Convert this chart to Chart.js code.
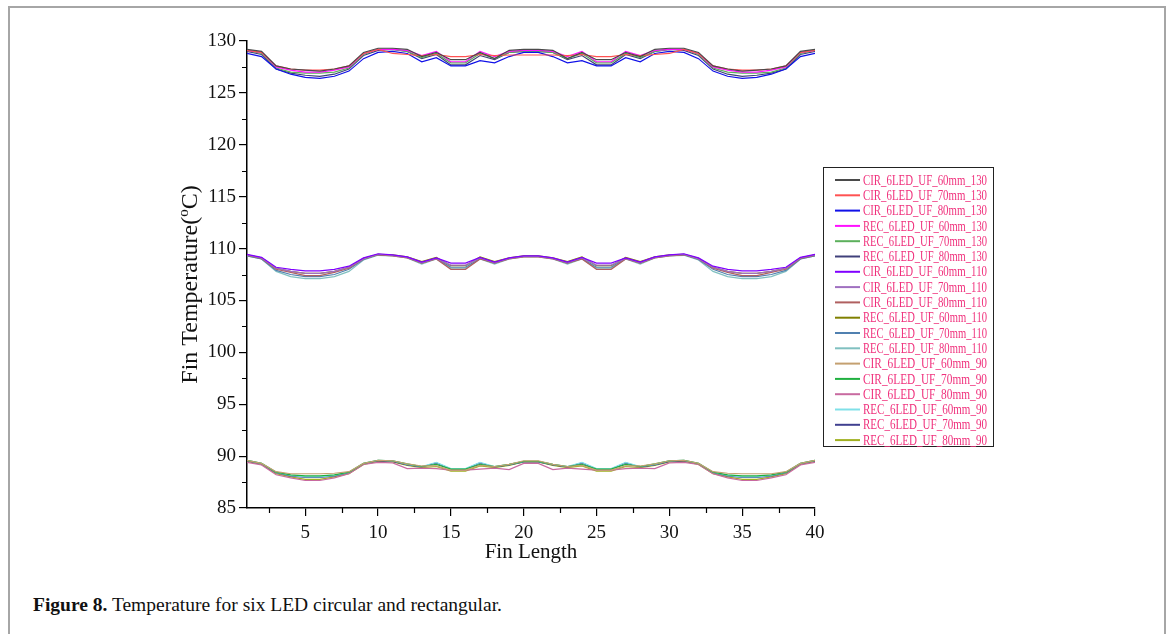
<!DOCTYPE html>
<html>
<head>
<meta charset="utf-8">
<script src="https://cdn.jsdelivr.net/npm/chart.js@4.4.0/dist/chart.umd.min.js"></script>
<style>
  html, body { margin: 0; padding: 0; background: #fff; overflow: hidden; }
  body { width: 1171px; height: 634px; position: relative; }
  .frame { position: absolute; left: 8px; top: 6px; width: 1154px; height: 700px; border: 2px solid #a6a6a6; border-bottom: none; }
  #chart { position: absolute; left: 0; top: 0; }
  .caption { position: absolute; left: 33px; top: 594px; font-family: "Liberation Serif", "DejaVu Serif", serif; font-size: 19.5px; color: #111; }
  .caption b { font-weight: bold; }
</style>
</head>
<body>
<div class="frame"></div>
<canvas id="chart" width="1171" height="570"></canvas>
<div class="caption"><b>Figure 8.</b> Temperature for six LED circular and rectangular.</div>
<script>
const finLength = [1, 2, 3, 4, 5, 6, 7, 8, 9, 10, 11, 12, 13, 14, 15, 16, 17, 18, 19, 20,
  21, 22, 23, 24, 25, 26, 27, 28, 29, 30, 31, 32, 33, 34, 35, 36, 37, 38, 39, 40];

const xTickValues = [2.5, 5, 7.5, 10, 12.5, 15, 17.5, 20, 22.5, 25, 27.5, 30, 32.5, 35, 37.5, 40];
const yTickValues = [85, 87.5, 90, 92.5, 95, 97.5, 100, 102.5, 105, 107.5, 110, 112.5, 115, 117.5, 120, 122.5, 125, 127.5, 130];

// 130 group
const cir60_130 = [129.2, 129.0, 127.6, 127.3, 127.2, 127.1, 127.3, 127.6, 128.9, 129.3, 129.3, 129.2, 128.5, 128.9, 128.2, 128.2, 128.9, 128.3, 129.1, 129.2,
  129.2, 129.1, 128.3, 128.9, 128.2, 128.2, 128.9, 128.5, 129.2, 129.3, 129.3, 128.9, 127.6, 127.3, 127.1, 127.2, 127.3, 127.6, 129.0, 129.2];
const cir70_130 = [129.1, 128.9, 127.6, 127.3, 127.2, 127.2, 127.3, 127.6, 128.8, 129.2, 128.8, 128.7, 128.6, 128.7, 128.5, 128.5, 128.7, 128.6, 128.65, 128.65,
  128.65, 128.65, 128.6, 128.7, 128.5, 128.5, 128.7, 128.6, 128.7, 128.8, 129.2, 128.8, 127.6, 127.3, 127.2, 127.2, 127.3, 127.6, 128.9, 129.1];
const cir80_130 = [128.8, 128.5, 127.3, 126.8, 126.5, 126.4, 126.6, 127.1, 128.3, 128.9, 129.0, 128.8, 128.0, 128.4, 127.6, 127.6, 128.1, 127.9, 128.5, 128.9,
  128.9, 128.5, 127.9, 128.1, 127.6, 127.6, 128.4, 128.0, 128.8, 129.0, 128.9, 128.3, 127.1, 126.6, 126.4, 126.5, 126.8, 127.3, 128.5, 128.8];
const rec60_130 = [129.1, 128.9, 127.5, 127.2, 127.0, 127.0, 127.2, 127.5, 128.8, 129.2, 129.2, 129.1, 128.6, 129.0, 128.0, 128.0, 129.0, 128.5, 129.0, 129.1,
  129.1, 129.0, 128.5, 129.0, 128.0, 128.0, 129.0, 128.6, 129.1, 129.2, 129.2, 128.8, 127.5, 127.2, 127.0, 127.0, 127.2, 127.5, 128.9, 129.1];
const rec70_130 = [129.1, 128.8, 127.4, 127.0, 126.9, 126.9, 127.0, 127.4, 128.7, 129.2, 129.2, 129.0, 128.4, 128.8, 127.9, 127.9, 128.8, 128.3, 128.9, 129.0,
  129.0, 128.9, 128.3, 128.8, 127.9, 127.9, 128.8, 128.4, 129.0, 129.2, 129.2, 128.7, 127.4, 127.0, 126.9, 126.9, 127.0, 127.4, 128.8, 129.1];
const rec80_130 = [129.0, 128.7, 127.3, 126.9, 126.7, 126.6, 126.8, 127.3, 128.6, 129.1, 129.2, 129.0, 128.3, 128.7, 127.7, 127.7, 128.6, 128.2, 128.9, 129.0,
  129.0, 128.9, 128.2, 128.6, 127.7, 127.7, 128.7, 128.3, 129.0, 129.2, 129.1, 128.6, 127.3, 126.8, 126.6, 126.7, 126.9, 127.3, 128.7, 129.0];

// 110 group
const cir60_110 = [109.45, 109.15, 108.2, 108.0, 107.85, 107.85, 108.0, 108.3, 109.1, 109.5, 109.4, 109.2, 108.7, 109.1, 108.6, 108.6, 109.15, 108.7, 109.1, 109.3,
  109.3, 109.1, 108.7, 109.15, 108.6, 108.6, 109.1, 108.7, 109.2, 109.4, 109.5, 109.1, 108.3, 108.0, 107.85, 107.85, 108.0, 108.2, 109.15, 109.45];
const cir70_110 = [109.4, 109.1, 108.1, 107.8, 107.6, 107.6, 107.8, 108.2, 109.0, 109.45, 109.35, 109.15, 108.65, 109.05, 108.4, 108.4, 109.1, 108.65, 109.05, 109.25,
  109.25, 109.05, 108.65, 109.1, 108.4, 108.4, 109.05, 108.65, 109.15, 109.35, 109.45, 109.0, 108.2, 107.8, 107.6, 107.6, 107.8, 108.1, 109.1, 109.4];
const cir80_110 = [109.35, 109.05, 108.0, 107.7, 107.4, 107.4, 107.7, 108.1, 109.0, 109.4, 109.3, 109.1, 108.6, 109.0, 108.0, 108.0, 109.0, 108.6, 109.0, 109.2,
  109.2, 109.0, 108.6, 109.0, 108.0, 108.0, 109.0, 108.6, 109.1, 109.3, 109.4, 109.0, 108.1, 107.7, 107.4, 107.4, 107.7, 108.0, 109.05, 109.35];
const rec60_110 = [109.4, 109.1, 108.1, 107.8, 107.6, 107.6, 107.8, 108.2, 109.05, 109.45, 109.4, 109.2, 108.75, 109.15, 108.35, 108.35, 109.2, 108.75, 109.1, 109.3,
  109.3, 109.1, 108.75, 109.2, 108.35, 108.35, 109.15, 108.75, 109.2, 109.4, 109.45, 109.05, 108.2, 107.8, 107.6, 107.6, 107.8, 108.1, 109.1, 109.4];
const rec70_110 = [109.3, 109.0, 107.9, 107.5, 107.3, 107.3, 107.5, 108.0, 108.95, 109.4, 109.35, 109.15, 108.6, 109.05, 108.2, 108.2, 109.05, 108.6, 109.05, 109.25,
  109.25, 109.05, 108.6, 109.05, 108.2, 108.2, 109.05, 108.6, 109.15, 109.35, 109.4, 108.95, 108.0, 107.5, 107.3, 107.3, 107.5, 107.9, 109.0, 109.3];
const rec80_110 = [109.3, 109.0, 107.8, 107.3, 107.1, 107.1, 107.3, 107.8, 108.9, 109.35, 109.3, 109.1, 108.5, 109.0, 108.1, 108.1, 109.0, 108.5, 109.0, 109.2,
  109.2, 109.0, 108.5, 109.0, 108.1, 108.1, 109.0, 108.5, 109.1, 109.3, 109.35, 108.9, 107.8, 107.3, 107.1, 107.1, 107.3, 107.8, 109.0, 109.3];

// 90 group
const cir60_90 = [89.6, 89.3, 88.5, 88.3, 88.3, 88.3, 88.35, 88.5, 89.3, 89.6, 89.55, 89.25, 89.05, 89.05, 88.65, 88.65, 89.1, 89.0, 89.2, 89.55,
  89.55, 89.2, 89.0, 89.1, 88.65, 88.65, 89.05, 89.05, 89.25, 89.55, 89.6, 89.3, 88.5, 88.35, 88.3, 88.3, 88.3, 88.5, 89.3, 89.6];
const cir70_90 = [89.6, 89.3, 88.45, 88.2, 88.1, 88.1, 88.2, 88.45, 89.3, 89.6, 89.55, 89.25, 89.0, 89.2, 88.75, 88.75, 89.2, 89.0, 89.2, 89.5,
  89.5, 89.2, 89.0, 89.2, 88.75, 88.75, 89.2, 89.0, 89.25, 89.55, 89.6, 89.3, 88.45, 88.2, 88.1, 88.1, 88.2, 88.45, 89.3, 89.6];
const cir80_90 = [89.4, 89.15, 88.2, 87.9, 87.65, 87.65, 87.9, 88.3, 89.2, 89.4, 89.35, 88.8, 88.85, 88.8, 88.65, 88.65, 88.75, 88.85, 88.7, 89.3,
  89.3, 88.7, 88.85, 88.75, 88.65, 88.65, 88.8, 88.85, 88.8, 89.35, 89.4, 89.2, 88.3, 87.9, 87.65, 87.65, 87.9, 88.2, 89.15, 89.4];
const rec60_90 = [89.6, 89.3, 88.45, 88.15, 88.0, 88.0, 88.15, 88.45, 89.3, 89.6, 89.55, 89.2, 89.0, 89.4, 88.8, 88.8, 89.4, 89.0, 89.2, 89.5,
  89.5, 89.2, 89.0, 89.4, 88.8, 88.8, 89.4, 89.0, 89.2, 89.55, 89.6, 89.3, 88.45, 88.15, 88.0, 88.0, 88.15, 88.45, 89.3, 89.6];
const rec70_90 = [89.55, 89.25, 88.4, 88.1, 87.95, 87.95, 88.1, 88.4, 89.25, 89.55, 89.5, 89.15, 88.95, 89.35, 88.75, 88.75, 89.35, 88.95, 89.15, 89.45,
  89.45, 89.15, 88.95, 89.35, 88.75, 88.75, 89.35, 88.95, 89.15, 89.5, 89.55, 89.25, 88.4, 88.1, 87.95, 87.95, 88.1, 88.4, 89.25, 89.55];
const rec80_90 = [89.5, 89.2, 88.3, 88.0, 87.75, 87.75, 88.0, 88.3, 89.2, 89.5, 89.45, 89.1, 88.9, 89.0, 88.55, 88.55, 89.05, 88.9, 89.1, 89.45,
  89.45, 89.1, 88.9, 89.05, 88.55, 88.55, 89.0, 88.9, 89.1, 89.45, 89.5, 89.2, 88.3, 88.0, 87.75, 87.75, 88.0, 88.3, 89.2, 89.5];

const seriesNames = [
  'CIR_6LED_UF_60mm_130', 'CIR_6LED_UF_70mm_130', 'CIR_6LED_UF_80mm_130',
  'REC_6LED_UF_60mm_130', 'REC_6LED_UF_70mm_130', 'REC_6LED_UF_80mm_130',
  'CIR_6LED_UF_60mm_110', 'CIR_6LED_UF_70mm_110', 'CIR_6LED_UF_80mm_110',
  'REC_6LED_UF_60mm_110', 'REC_6LED_UF_70mm_110', 'REC_6LED_UF_80mm_110',
  'CIR_6LED_UF_60mm_90', 'CIR_6LED_UF_70mm_90', 'CIR_6LED_UF_80mm_90',
  'REC_6LED_UF_60mm_90', 'REC_6LED_UF_70mm_90', 'REC_6LED_UF_80mm_90'
];
const seriesValues = [
  cir60_130, cir70_130, cir80_130, rec60_130, rec70_130, rec80_130,
  cir60_110, cir70_110, cir80_110, rec60_110, rec70_110, rec80_110,
  cir60_90, cir70_90, cir80_90, rec60_90, rec70_90, rec80_90
];
const seriesColors = [
  '#4a4a4a', '#ff5252', '#1010e8', '#ff10ff', '#5cb05c', '#40407a',
  '#8000ff', '#a070c0', '#b06060', '#808000', '#5080b0', '#80c0c0',
  '#c4a070', '#20b040', '#c86aa0', '#80e0e8', '#404090', '#a0b020'
];

const serif = '"Liberation Serif", "Times New Roman", serif';
const isMajor = v => Math.abs(v % 5) < 1e-9;

// minor ticks, y title with superscript, boxed legend
const extras = {
  id: 'extras',
  afterDraw(chart) {
    const c = chart.ctx;
    const xs = chart.scales.x, ys = chart.scales.y;
    c.save();
    c.strokeStyle = '#000';
    c.lineWidth = 1.2;
    c.beginPath();
    xTickValues.filter(v => !isMajor(v)).forEach(v => {
      const px = Math.round(xs.getPixelForValue(v)) + 0.5;
      c.moveTo(px, ys.bottom); c.lineTo(px, ys.bottom + 5);
    });
    yTickValues.filter(v => !isMajor(v)).forEach(v => {
      const py = Math.round(ys.getPixelForValue(v)) + 0.5;
      c.moveTo(xs.left, py); c.lineTo(xs.left - 5, py);
    });
    c.stroke();

    // y axis title
    const big = '24px ' + serif, small = '15px ' + serif;
    c.font = big;
    const a = 'Fin Temperature(', b = 'C)';
    const wa = c.measureText(a).width, wb = c.measureText(b).width;
    c.font = small;
    const wo = c.measureText('o').width;
    const total = wa + wo + wb;
    c.translate(197, (ys.top + ys.bottom) / 2 + 10);
    c.rotate(-Math.PI / 2);
    c.fillStyle = '#111';
    c.textBaseline = 'alphabetic';
    c.font = big;
    c.fillText(a, -total / 2, 0);
    c.font = small;
    c.fillText('o', -total / 2 + wa, -9);
    c.font = big;
    c.fillText(b, -total / 2 + wa + wo, 0);
    c.restore();

    // legend
    c.save();
    c.strokeStyle = '#222';
    c.lineWidth = 1;
    c.strokeRect(823.5, 167.5, 170, 279);
    c.font = '14px ' + serif;
    c.textBaseline = 'middle';
    chart.data.datasets.forEach((ds, i) => {
      const y = 180 + i * 15.3;
      c.strokeStyle = ds.borderColor;
      c.lineWidth = 2;
      c.beginPath(); c.moveTo(835, y); c.lineTo(860, y); c.stroke();
      c.fillStyle = '#f0307c';
      c.fillText(ds.label, 863, y + 1, 124);
    });
    c.restore();
  }
};

new Chart(document.getElementById('chart'), {
  type: 'line',
  data: {
    datasets: seriesValues.map((vals, i) => ({
      label: seriesNames[i],
      data: vals.map((v, j) => ({ x: finLength[j], y: v })),
      borderColor: seriesColors[i],
      borderWidth: 1.2,
      pointRadius: 0,
      fill: false,
      tension: 0
    }))
  },
  options: {
    responsive: false,
    animation: false,
    devicePixelRatio: 1,
    layout: { padding: { left: 0, right: 356, top: 41, bottom: 0 } },
    plugins: { legend: { display: false }, tooltip: { enabled: false } },
    scales: {
      x: {
        type: 'linear',
        min: 1,
        max: 40,
        afterBuildTicks: axis => { axis.ticks = xTickValues.map(v => ({ value: v })); },
        afterFit: axis => { axis.height = 62; },
        border: { display: true, color: '#000', width: 1.5 },
        grid: {
          drawOnChartArea: false,
          tickLength: 8,
          lineWidth: 1.2,
          color: ctx => (ctx.tick && isMajor(ctx.tick.value)) ? '#000' : 'rgba(0,0,0,0)'
        },
        ticks: {
          autoSkip: false,
          maxRotation: 0,
          padding: 6,
          color: '#111',
          font: { family: serif, size: 19 },
          callback: v => isMajor(v) ? v : ''
        },
        title: {
          display: true,
          text: 'Fin Length',
          color: '#111',
          font: { family: serif, size: 21 },
          padding: { top: 0, bottom: 5 }
        }
      },
      y: {
        type: 'linear',
        min: 85,
        max: 130,
        afterBuildTicks: axis => { axis.ticks = yTickValues.map(v => ({ value: v })); },
        afterFit: axis => { axis.width = 247; },
        border: { display: true, color: '#000', width: 1.5 },
        grid: {
          drawOnChartArea: false,
          tickLength: 8,
          lineWidth: 1.2,
          color: ctx => (ctx.tick && isMajor(ctx.tick.value)) ? '#000' : 'rgba(0,0,0,0)'
        },
        ticks: {
          autoSkip: false,
          padding: 3,
          color: '#111',
          font: { family: serif, size: 19 },
          callback: v => isMajor(v) ? v : ''
        }
      }
    }
  },
  plugins: [extras]
});
</script>
</body>
</html>
